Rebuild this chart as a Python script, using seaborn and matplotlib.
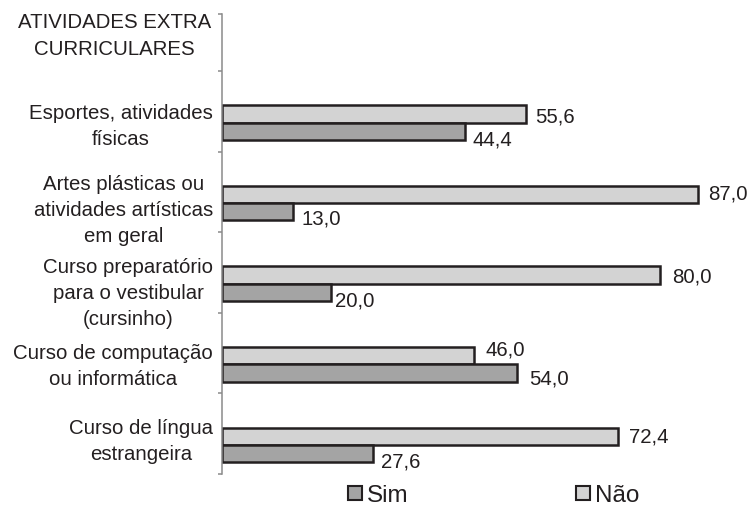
import matplotlib
matplotlib.use("Agg")
import matplotlib.pyplot as plt
from matplotlib.lines import Line2D
import seaborn as sns
import pandas as pd

# ---- data ----
categories = [
    "Esportes, atividades\nfísicas",
    "Artes plásticas ou\natividades artísticas\nem geral",
    "Curso preparatório\npara o vestibular\n(cursinho)",
    "Curso de computação\nou informática",
    "Curso de língua\nestrangeira",
]
nao_values = [55.6, 87.0, 80.0, 46.0, 72.4]
sim_values = [44.4, 13.0, 20.0, 54.0, 27.6]
series_names = ["Não", "Sim"]
header_text = "ATIVIDADES EXTRA\nCURRICULARES"

# ---- style ----
sns.set_style("white")
plt.rcParams["font.family"] = ["Liberation Sans", "DejaVu Sans"]
TXT = "#231f20"
colors = {"Não": "#d3d3d3", "Sim": "#a4a4a4"}
FS = 14.7

df = pd.DataFrame({
    "cat": categories * 2,
    "resp": ["Não"] * len(categories) + ["Sim"] * len(categories),
    "val": nao_values + sim_values,
})

W, H = 751, 506
fig = plt.figure(figsize=(W / 100, H / 100), dpi=100)
ax = fig.add_axes([222 / W, 1 - 475 / H, (W - 222) / W, 460 / H])

sns.barplot(data=df, y="cat", x="val", hue="resp", order=categories,
            hue_order=series_names, palette=colors, saturation=1,
            orient="h", width=0.43, edgecolor=TXT, linewidth=1.8,
            legend=False, ax=ax)

y_bottom, y_top = 4.36, -1.346
ax.set_ylim(y_bottom, y_top)
ax.set_xlim(0, (W - 222) / 5.47)
ax.set_xlabel("")
ax.set_ylabel("")
ax.set_xticks([])
ticks = [y_bottom - k for k in range(6)] + [y_top]
ax.set_yticks(ticks)
ax.set_yticklabels([])
ax.tick_params(axis="y", direction="out", length=3, width=1.1,
               color="#8a8a8a", left=True)
for s in ["top", "right", "bottom"]:
    ax.spines[s].set_visible(False)
ax.spines["left"].set_color("#8a8a8a")
ax.spines["left"].set_linewidth(1.1)

# category labels (layout offsets)
label_shift = [0.04, 0.08, 0.11, 0.01, -0.06]
for i, c in enumerate(categories):
    ax.annotate(c, xy=(0, i + label_shift[i]), xycoords=("axes fraction", "data"),
                xytext=(-9, 0), textcoords="offset pixels", ha="right", va="center",
                multialignment="center", fontsize=FS, color=TXT, linespacing=1.47)

# header
fig.text(211 / W, 1 - 36 / H, header_text, ha="right", va="center",
         multialignment="center", fontsize=FS, color=TXT, linespacing=1.47)

# value labels (layout offsets in pixels: dx right, dy down)
label_dx = {"Não": [9, 10, 13, 12, 11], "Sim": [8, 8, 4, 12, 8]}
label_dy = {"Não": [1, -3, -1, -8, -2], "Sim": [6, 5, 6, 3, 6]}
for cont, name in zip(ax.containers, series_names):
    for j, bar in enumerate(cont):
        v = bar.get_width()
        yc = bar.get_y() + bar.get_height() / 2
        ax.annotate(f"{v:.1f}".replace(".", ","), xy=(v, yc),
                    xytext=(label_dx[name][j], -(label_dy[name][j] + 7)),
                    textcoords="offset pixels", ha="left", va="baseline",
                    fontsize=FS, color=TXT)

# legend
def handle(name):
    return Line2D([], [], marker="s", linestyle="", markersize=10,
                  markerfacecolor=colors[name], markeredgecolor=TXT,
                  markeredgewidth=1.5, label=name)

for name, xpos in [("Sim", 345.5), ("Não", 573.5)]:
    fig.legend(handles=[handle(name)], loc="center left",
               bbox_to_anchor=(xpos / W, 1 - 496 / H), frameon=False,
               borderpad=0, borderaxespad=0, handlelength=0.75,
               handletextpad=0.12, fontsize=17.5, labelcolor=TXT)

fig.savefig("out.png", dpi=100)
